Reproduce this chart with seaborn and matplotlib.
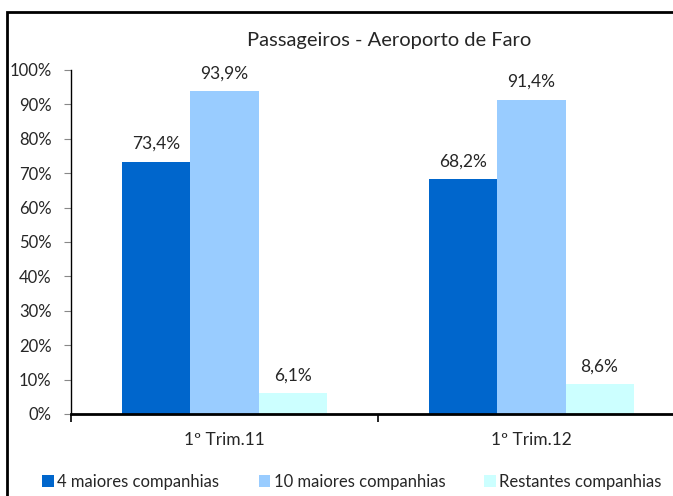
import numpy as np
import matplotlib
matplotlib.use("Agg")
import matplotlib.pyplot as plt
import matplotlib.patches as mpatches
import pandas as pd
import seaborn as sns

# data (percent)
periods = ["1º Trim.11", "1º Trim.12"]
series = ["4 maiores companhias", "10 maiores companhias", "Restantes companhias"]
top4 = [73.4, 68.2]
top10 = [93.9, 91.4]
rest = [6.1, 8.6]
colors = ["#0066CC", "#99CCFF", "#CCFFFF"]

df = pd.DataFrame({
    "periodo": periods * 3,
    "serie": [series[0]] * 2 + [series[1]] * 2 + [series[2]] * 2,
    "valor": top4 + top10 + rest,
})

sns.set_style("white")
plt.rcParams["font.family"] = ["Lato", "DejaVu Sans"]

fig = plt.figure(figsize=(6.73, 4.96), dpi=100)
ax = fig.add_axes([71 / 673, 82 / 496, 614 / 673, 344 / 496])

sns.barplot(data=df, x="periodo", y="valor", hue="serie", palette=colors,
            width=0.665, saturation=1, linewidth=0, ax=ax, legend=False)

for cont in ax.containers:
    ax.bar_label(cont, fmt=lambda v: f"{v:.1f}%".replace(".", ","),
                 padding=7, fontsize=12.5)

ax.set_ylim(0, 100)
ax.set_xlim(-0.5, 1.5)
ax.set_yticks(np.arange(0, 101, 10))
ax.set_yticklabels([f"{t}%" for t in range(0, 101, 10)], fontsize=12)
ax.tick_params(axis="y", which="major", length=5, color="#888888", direction="out", left=True, pad=9)
ax.tick_params(axis="x", which="major", length=0, labelsize=12.5, pad=13)
ax.set_xticks([-0.5, 0.5, 1.5], minor=True)
ax.tick_params(axis="x", which="minor", length=6, width=1.2, color="black", direction="out", bottom=True)
ax.set_xlabel("")
ax.set_ylabel("")
ax.set_title("Passageiros - Aeroporto de Faro", fontsize=14.5, pad=17, x=(389 - 71) / 614)

for s in ["top", "right"]:
    ax.spines[s].set_visible(False)
ax.spines["left"].set_color("black")
ax.spines["left"].set_linewidth(1)
ax.spines["bottom"].set_color("black")
ax.spines["bottom"].set_linewidth(2)

handles = [mpatches.Patch(facecolor=c, edgecolor="none", label=s) for c, s in zip(colors, series)]
fig.legend(handles=handles, loc="center", bbox_to_anchor=(352 / 673, 14 / 496), ncol=3,
           frameon=False, fontsize=12, handlelength=0.7, handleheight=0.7,
           handletextpad=0.2, columnspacing=2.35, borderpad=0)

# outer chart frame (cropped at right and bottom in the original)
frame = mpatches.Rectangle((7 / 673, -0.1), 1.0, (496 - 12) / 496 + 0.1,
                           transform=fig.transFigure, fill=False,
                           edgecolor="black", linewidth=2, clip_on=False)
fig.patches.append(frame)

fig.savefig("out.png", dpi=100)
